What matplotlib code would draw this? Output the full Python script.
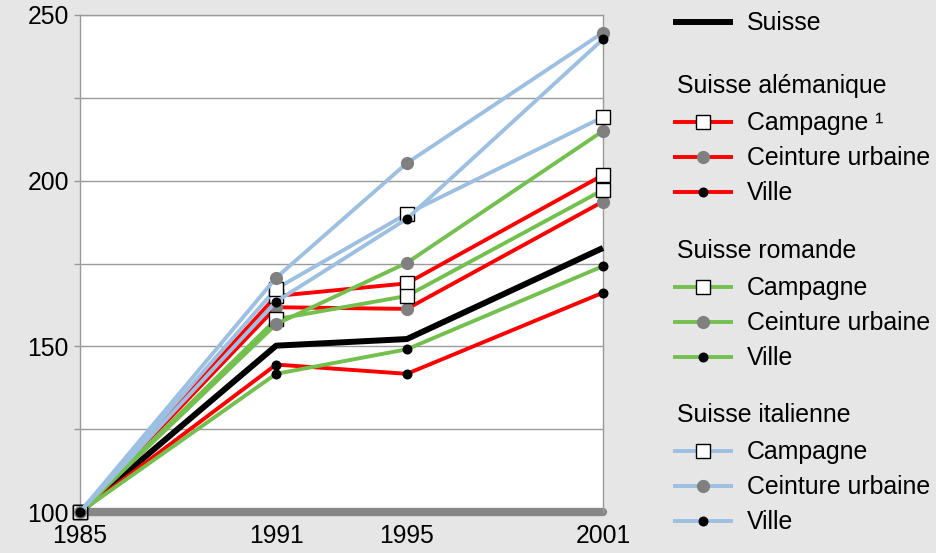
import matplotlib
matplotlib.use("Agg")
import matplotlib.pyplot as plt
from matplotlib.lines import Line2D

plt.rcParams['font.family'] = ['Liberation Sans', 'DejaVu Sans']

years = [1985, 1991, 1995, 2001]
suisse = [100, 150.2, 152.2, 179.7]

alem_campagne = [100, 165.2, 169.0, 201.7]
alem_ceinture = [100, 161.8, 161.3, 193.7]
alem_ville = [100, 144.5, 141.7, 166.2]

rom_campagne = [100, 158.2, 165.2, 197.2]
rom_ceinture = [100, 156.7, 175.2, 215.0]
rom_ville = [100, 141.7, 149.1, 174.2]

ital_campagne = [100, 167.4, 190.0, 219.2]
ital_ceinture = [100, 170.7, 205.3, 244.7]
ital_ville = [100, 163.5, 188.5, 242.7]

group_names = ["Suisse alémanique", "Suisse romande", "Suisse italienne"]
item_labels = [["Campagne \u00b9", "Ceinture urbaine", "Ville"],
               ["Campagne", "Ceinture urbaine", "Ville"],
               ["Campagne", "Ceinture urbaine", "Ville"]]
ytick_vals = [100, 125, 150, 175, 200, 225, 250]
ytick_labeled = [100, 150, 200, 250]

RED = "#ff0000"
GREEN = "#73c04e"
BLUE = "#9dc0e2"
BG = "#e6e6e6"
GRID = "#9a9a9a"

W, H = 936, 553
fig = plt.figure(figsize=(W / 100, H / 100), dpi=100, facecolor=BG)
ax = fig.add_axes([80 / W, (H - 512) / H, (603 - 80) / W, (512 - 15) / H])
ax.set_facecolor("white")

marker_styles = [
    dict(marker="s", markersize=10.5, markerfacecolor="white", markeredgecolor="black", markeredgewidth=1.0),
    dict(marker="o", markersize=9.5, markerfacecolor="#808080", markeredgecolor="#808080", markeredgewidth=0),
    dict(marker="o", markersize=7.2, markerfacecolor="black", markeredgecolor="black", markeredgewidth=0),
]
groups = [
    (RED, [alem_campagne, alem_ceinture, alem_ville]),
    (GREEN, [rom_campagne, rom_ceinture, rom_ville]),
    (BLUE, [ital_campagne, ital_ceinture, ital_ville]),
]

LW = 2.8
LW_CH = 4.3

ax.set_xlim(1985, 2001)
ax.set_ylim(100, 250)

for y in ytick_vals[1:]:
    ax.axhline(y, color=GRID, lw=1.0, zorder=1)

ax.plot(years, suisse, color="black", lw=LW_CH, zorder=3, solid_capstyle="butt", clip_on=False)
z = 4
for color, series in groups:
    for vals, ms in zip(series, marker_styles):
        ax.plot(years, vals, color=color, lw=LW, zorder=z, clip_on=False, **ms)
        z += 1

ax.set_xticks(years)
ax.set_xticklabels([str(y) for y in years])
ax.set_yticks(ytick_vals)
ax.set_yticklabels([str(v) if v in ytick_labeled else "" for v in ytick_vals])
FS = 17.8
ax.tick_params(axis="x", length=0, pad=8.5, labelsize=FS, colors="black")
ax.tick_params(axis="y", length=4, width=1, color=GRID, pad=4, labelsize=FS, labelcolor="black")

for s in ["left", "right", "top"]:
    ax.spines[s].set_color(GRID)
    ax.spines[s].set_linewidth(1.0)
ax.spines["bottom"].set_color("#878787")
ax.spines["bottom"].set_linewidth(6.0)
ax.spines["bottom"].set_capstyle("round")
ax.spines["bottom"].set_zorder(2)

# Legend (manual layout in pixel coordinates)
def fx(px):
    return px / W

def fy(py):
    return (H - py) / H

def handle(y, color, lw, ms=None):
    fig.add_artist(Line2D([fx(673), fx(733)], [fy(y), fy(y)], color=color, lw=lw,
                          solid_capstyle="butt", transform=fig.transFigure))
    if ms is not None:
        fig.add_artist(Line2D([fx(703)], [fy(y)], color=color, lw=0,
                              transform=fig.transFigure, **ms))

FSL = 17.9
handle(22, "black", LW_CH)
fig.text(fx(747), fy(23), "Suisse", fontsize=FSL, va="center", ha="left")

head_y = [85, 250, 414]
colors = [RED, GREEN, BLUE]
for gname, hy, col, labs in zip(group_names, head_y, colors, item_labels):
    fig.text(fx(677), fy(hy + 1), gname, fontsize=FSL, va="center", ha="left")
    for i, (lab, ms) in enumerate(zip(labs, marker_styles)):
        yy = hy + 37 + i * 35
        handle(yy, col, LW, ms)
        fig.text(fx(747), fy(yy + 1), lab, fontsize=FSL, va="center", ha="left")

fig.savefig("out.png", dpi=100, facecolor=BG)
